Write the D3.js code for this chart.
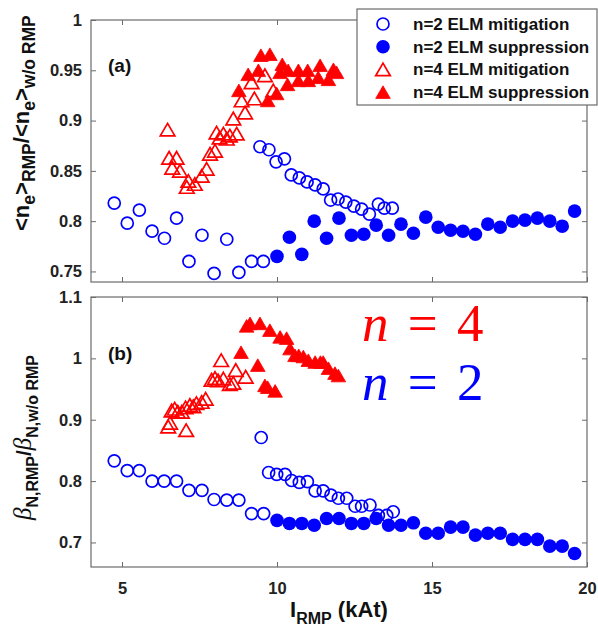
<!DOCTYPE html>
<html><head><meta charset="utf-8">
<script src="https://cdn.jsdelivr.net/npm/d3@7"></script>
<style>body{margin:0;background:#fff}svg{display:block}</style>
</head><body><svg id="c" width="598" height="631"></svg>
<script>
// ---------- data ----------
const xTicks=[5,10,15,20];
const xTickLabels=["5","10","15","20"];
const yTicksA=[0.75,0.8,0.85,0.9,0.95,1];
const yTickLabelsA=["0.75","0.8","0.85","0.9","0.95","1"];
const yTicksB=[0.7,0.8,0.9,1.0,1.1];
const yTickLabelsB=["0.7","0.8","0.9","1","1.1"];
const legendLabels=["n=2 ELM mitigation","n=2 ELM suppression","n=4 ELM mitigation","n=4 ELM suppression"];
const modeNumbers=["4","2"];

// panel (a)
const aN2MitX=[4.75,5.17,5.56,5.97,6.37,6.76,7.16,7.58,7.97,8.38,8.77,9.18,9.56,9.45,9.74,9.97,10.24,10.46,10.72,10.97,11.23,11.49,11.73,11.97,12.22,12.48,12.73,12.98,13.27,13.46,13.72];
const aN2MitY=[0.818,0.798,0.811,0.790,0.783,0.803,0.760,0.786,0.748,0.782,0.749,0.760,0.760,0.874,0.871,0.859,0.862,0.846,0.843,0.839,0.836,0.832,0.821,0.822,0.819,0.815,0.812,0.807,0.817,0.813,0.813];
const aN2SupX=[10,10.4,10.8,11.2,11.6,12,12.4,12.8,13.2,13.6,14,14.4,14.8,15.2,15.6,16,16.4,16.8,17.2,17.6,18,18.4,18.8,19.2,19.6];
const aN2SupY=[0.765,0.784,0.767,0.800,0.783,0.803,0.786,0.787,0.796,0.786,0.797,0.788,0.804,0.794,0.791,0.790,0.787,0.797,0.794,0.800,0.801,0.803,0.800,0.795,0.810];
const aN4MitX=[6.47,6.52,6.76,6.62,6.87,7.14,7.09,7.35,7.57,7.73,7.84,8.0,8.05,8.15,8.27,8.38,8.48,8.7,8.59,8.97,8.86,9.27,9.18,9.61,9.88];
const aN4MitY=[0.891,0.863,0.863,0.853,0.850,0.840,0.834,0.837,0.845,0.852,0.867,0.870,0.888,0.883,0.887,0.882,0.885,0.887,0.902,0.908,0.920,0.922,0.938,0.945,0.930];
const aN4SupX=[8.77,9.07,9.4,9.48,9.77,9.7,9.99,10.17,10.1,10.36,10.34,10.69,10.69,10.99,11.01,11.39,11.33,11.66,11.82,11.92];
const aN4SupY=[0.930,0.946,0.950,0.965,0.966,0.920,0.927,0.956,0.948,0.950,0.936,0.950,0.940,0.950,0.940,0.955,0.943,0.941,0.951,0.948];

// panel (b)
const bN2MitX=[4.75,5.17,5.56,5.97,6.36,6.76,7.16,7.58,7.97,8.38,8.77,9.18,9.57,9.49,9.73,9.99,10.26,10.47,10.72,10.98,11.23,11.49,11.74,11.98,12.25,12.52,12.73,13.0,13.27,13.54,13.75];
const bN2MitY=[0.833,0.817,0.817,0.800,0.800,0.800,0.785,0.785,0.770,0.769,0.769,0.747,0.747,0.871,0.814,0.811,0.811,0.801,0.798,0.799,0.784,0.784,0.777,0.772,0.772,0.759,0.759,0.761,0.744,0.744,0.750];
const bN2SupX=[10,10.4,10.8,11.2,11.6,12,12.4,12.8,13.2,13.6,14,14.4,14.8,15.2,15.6,16,16.4,16.8,17.2,17.6,18,18.4,18.8,19.2,19.6];
const bN2SupY=[0.736,0.731,0.731,0.728,0.739,0.739,0.731,0.731,0.739,0.728,0.728,0.732,0.715,0.715,0.725,0.725,0.712,0.715,0.715,0.705,0.705,0.705,0.694,0.694,0.682];
const bN4MitX=[6.49,6.55,7.07,6.6,6.7,6.8,6.93,7.05,7.19,7.3,7.4,7.57,7.7,7.89,8.0,8.1,8.27,8.48,8.59,8.2,8.67,8.99];
const bN4MitY=[0.889,0.895,0.883,0.915,0.918,0.913,0.913,0.920,0.924,0.922,0.927,0.929,0.934,0.965,0.968,0.964,0.967,0.958,0.960,0.997,0.981,0.970];
const bN4SupX=[8.84,9.02,9.13,9.38,9.45,9.77,9.61,9.7,9.94,10.1,10.31,10.42,10.58,10.7,10.85,11.01,11.23,11.4,11.49,11.66,11.87,11.98];
const bN4SupY=[1.010,1.053,1.057,0.989,1.057,1.046,0.956,0.953,0.947,1.035,1.033,1.016,1.005,1.005,1.003,0.997,0.994,0.994,0.994,0.984,0.976,0.972];

// ---------- drawing ----------
const BLUE="#0000ff", RED="#ff0000", AX="#6b6b6b", TXT="#222";
const svg=d3.select("#c");
const L=91,R=587;
const x=d3.scaleLinear().domain([4,20]).range([L,R]);
const yA=d3.scaleLinear().domain([0.7395,1]).range([282,20]);
const yB=d3.scaleLinear().domain([0.66,1.1]).range([567,297]);
const sans="'Liberation Sans', Arial, sans-serif";
const serif="'Liberation Serif','Times New Roman',serif";

function triPath(){const w=7.3,h=6.3;return `M0,${-h}L${w},${h}L${-w},${h}Z`;}

function drawPanel(y, yTicks, yLabels, showXLabels, series){
  const [bot,top]=y.range();
  const g=svg.append("g");
  const styleAxis=sel=>{
    sel.select(".domain").remove();
    sel.selectAll(".tick line").attr("stroke",AX).attr("stroke-width",1);
    sel.selectAll("text").attr("fill",TXT).style("font-family",sans).style("font-weight","bold").style("font-size","16.5px");
  };
  g.append("g").attr("transform",`translate(${L},0)`)
    .call(d3.axisLeft(y).tickValues(yTicks).tickSize(-5).tickSizeOuter(0).tickPadding(9).tickFormat((d,i)=>yLabels[i])).call(styleAxis);
  g.append("g").attr("transform",`translate(${R},0)`)
    .call(d3.axisRight(y).tickValues(yTicks).tickSize(-5).tickSizeOuter(0).tickFormat("")).call(styleAxis);
  g.append("g").attr("transform",`translate(0,${top})`)
    .call(d3.axisTop(x).tickValues(xTicks).tickSize(-5).tickSizeOuter(0).tickFormat("")).call(styleAxis);
  g.append("g").attr("transform",`translate(0,${bot})`)
    .call(d3.axisBottom(x).tickValues(xTicks).tickSize(-5).tickSizeOuter(0).tickPadding(15)
      .tickFormat(showXLabels?((d,i)=>xTickLabels[i]):"")).call(styleAxis);
  g.append("rect").attr("x",L).attr("y",top).attr("width",R-L).attr("height",bot-top)
    .attr("fill","none").attr("stroke",AX).attr("stroke-width",1.2);

  const m=g.append("g");
  series.forEach(s=>{
    const pts=s.xs.map((v,i)=>[v,s.ys[i]]);
    if(s.shape==="circle"){
      m.append("g").selectAll("circle").data(pts).join("circle")
        .attr("cx",d=>x(d[0])).attr("cy",d=>y(d[1]))
        .attr("r",s.filled?6.8:6.0)
        .attr("fill",s.filled?s.color:"none").attr("stroke",s.filled?"none":s.color).attr("stroke-width",1.7);
    } else {
      m.append("g").selectAll("path").data(pts).join("path")
        .attr("d",triPath()).attr("transform",d=>`translate(${x(d[0])},${y(d[1])})`)
        .attr("fill",s.filled?s.color:"none").attr("stroke",s.color).attr("stroke-width",s.filled?0.8:1.7)
        .attr("stroke-linejoin","miter");
    }
  });
}

drawPanel(yA,yTicksA,yTickLabelsA,false,[
  {xs:aN2SupX,ys:aN2SupY,shape:"circle",filled:true,color:BLUE},
  {xs:aN2MitX,ys:aN2MitY,shape:"circle",filled:false,color:BLUE},
  {xs:aN4MitX,ys:aN4MitY,shape:"tri",filled:false,color:RED},
  {xs:aN4SupX,ys:aN4SupY,shape:"tri",filled:true,color:RED}
]);
drawPanel(yB,yTicksB,yTickLabelsB,true,[
  {xs:bN2SupX,ys:bN2SupY,shape:"circle",filled:true,color:BLUE},
  {xs:bN2MitX,ys:bN2MitY,shape:"circle",filled:false,color:BLUE},
  {xs:bN4MitX,ys:bN4MitY,shape:"tri",filled:false,color:RED},
  {xs:bN4SupX,ys:bN4SupY,shape:"tri",filled:true,color:RED}
]);

// panel letters
svg.append("text").attr("x",108).attr("y",72).text("(a)")
  .style("font-family",sans).style("font-weight","bold").style("font-size","19px").attr("fill","#111");
svg.append("text").attr("x",108).attr("y",360).text("(b)")
  .style("font-family",sans).style("font-weight","bold").style("font-size","19px").attr("fill","#111");

// legend
const lg=svg.append("g");
lg.append("rect").attr("x",357).attr("y",9).attr("width",240).attr("height",96)
  .attr("fill","#fff").attr("stroke",AX).attr("stroke-width",1.2);
const legStyles=[{shape:"circle",filled:false,color:BLUE},{shape:"circle",filled:true,color:BLUE},
                 {shape:"tri",filled:false,color:RED},{shape:"tri",filled:true,color:RED}];
legendLabels.forEach((t,i)=>{
  const cy=24+i*22.7, st=legStyles[i];
  if(st.shape==="circle"){
    lg.append("circle").attr("cx",383).attr("cy",cy).attr("r",st.filled?6.8:6.0)
      .attr("fill",st.filled?st.color:"none").attr("stroke",st.filled?"none":st.color).attr("stroke-width",1.7);
  } else {
    lg.append("path").attr("d",triPath()).attr("transform",`translate(383,${cy})`)
      .attr("fill",st.filled?st.color:"none").attr("stroke",st.color).attr("stroke-width",st.filled?0.8:1.7);
  }
  lg.append("text").attr("x",413).attr("y",cy+6).text(t)
    .style("font-family",sans).style("font-weight","bold").style("font-size","17px").attr("fill","#111");
});

// big n labels
[[modeNumbers[0],RED,341],[modeNumbers[1],BLUE,400]].forEach(([num,col,by])=>{
  const t=svg.append("text").attr("x",362).attr("y",by).attr("fill",col)
    .style("font-family",serif).style("font-size","53px").style("word-spacing","6px");
  t.append("tspan").style("font-style","italic").text("n");
  t.append("tspan").text(" = "+num);
});

// y label (a)
const yla=svg.append("text").attr("transform","translate(29,231) rotate(-90)").attr("fill","#111")
  .style("font-family",sans).style("font-weight","bold").style("font-size","22px");
const parts=[["<n",0],["e",1],[">",0],["RMP",1],["/<n",0],["e",1],[">",0],["w/o RMP",1]];
let lvl=0;
parts.forEach(([s,sub])=>{
  const sp=yla.append("tspan").text(s);
  if(sub){sp.style("font-size","17.5px");}
  const target=sub?6:0; sp.attr("dy",target-lvl); lvl=target;
});

// y label (b)
const ylb=svg.append("text").attr("transform","translate(31,520) rotate(-90)").attr("fill","#111")
  .style("font-family",sans).style("font-weight","bold").style("font-size","21px");
const partsB=[["β",0,true],["N,RMP",1],["/",0],["β",0,true],["N,w/o RMP",1]];
lvl=0;
partsB.forEach(([s,sub,greek])=>{
  const sp=ylb.append("tspan").text(s);
  if(sub) sp.style("font-size","16px");
  if(greek) sp.style("font-family",serif).style("font-style","italic").style("font-weight","normal").style("font-size","25px");
  const target=sub?7:0; sp.attr("dy",target-lvl); lvl=target;
});

// x label
const xl=svg.append("text").attr("x",339).attr("y",617).attr("text-anchor","middle").attr("fill","#111")
  .style("font-family",sans).style("font-weight","bold").style("font-size","22px");
xl.append("tspan").text("I");
xl.append("tspan").attr("dy",7).style("font-size","16px").text("RMP");
xl.append("tspan").attr("dy",-7).text(" (kAt)");
</script></body></html>
